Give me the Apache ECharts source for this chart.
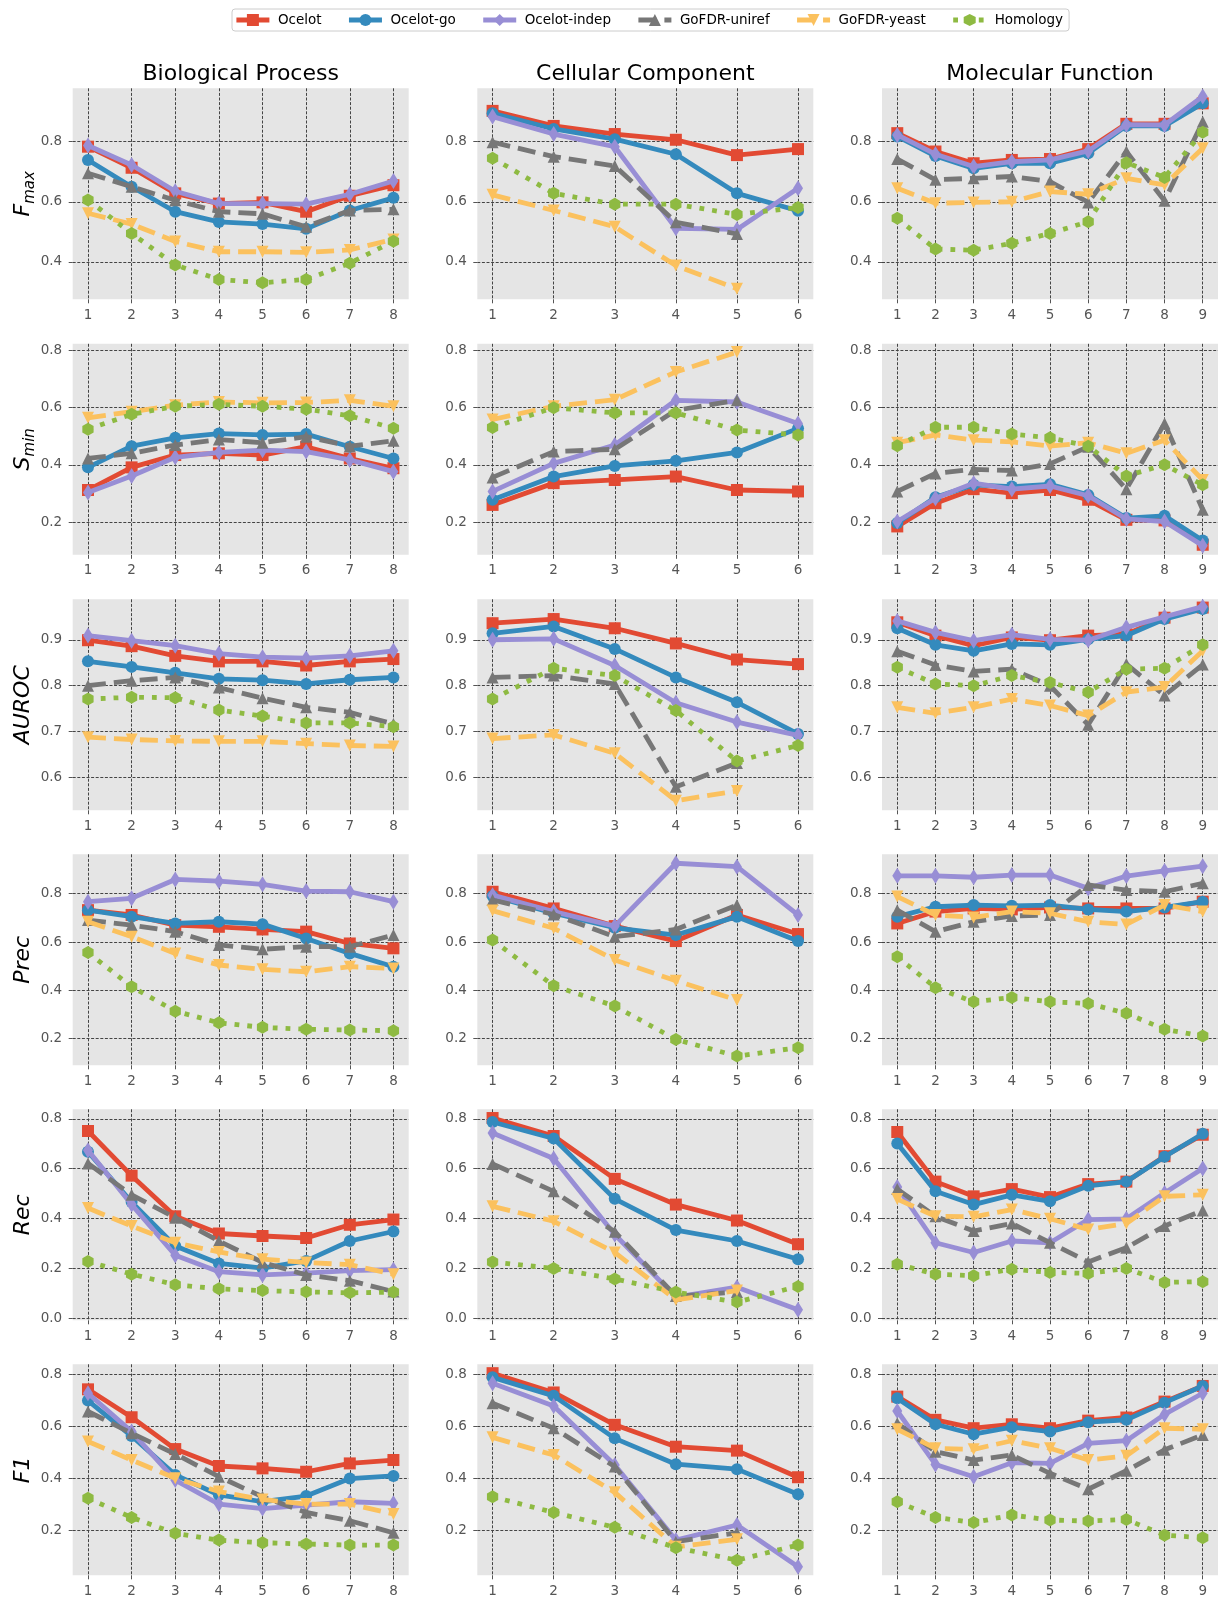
<!DOCTYPE html>
<html>
<head>
<meta charset="utf-8">
<script src="https://cdn.jsdelivr.net/npm/echarts@6/dist/echarts.min.js"></script>
<style>
  html, body { margin: 0; padding: 0; background: #ffffff; }
  #chart { width: 1219px; height: 1604px; }
</style>
</head>
<body>
<div id="chart"></div>
<script>
// ---- categories and tick labels ----
const methods = ['Ocelot', 'Ocelot-go', 'Ocelot-indep', 'GoFDR-uniref', 'GoFDR-yeast', 'Homology'];
const ontologies = ['Biological Process', 'Cellular Component', 'Molecular Function'];
const xBP = [1, 2, 3, 4, 5, 6, 7, 8];
const xCC = [1, 2, 3, 4, 5, 6];
const xMF = [1, 2, 3, 4, 5, 6, 7, 8, 9];
const yTicksFmax = [0.4, 0.6, 0.8];
const yTicksSmin = [0.2, 0.4, 0.6, 0.8];
const yTicksAuroc = [0.6, 0.7, 0.8, 0.9];
const yTicksPrec = [0.2, 0.4, 0.6, 0.8];
const yTicksRec = [0.0, 0.2, 0.4, 0.6, 0.8];
const yTicksF1 = [0.2, 0.4, 0.6, 0.8];

// ---- values: one row per method, in the order of `methods` ----
const fmaxBP = [
  [0.783, 0.713, 0.628, 0.594, 0.598, 0.567, 0.620, 0.655],
  [0.739, 0.650, 0.567, 0.533, 0.526, 0.510, 0.571, 0.613],
  [0.787, 0.722, 0.635, 0.594, 0.594, 0.592, 0.625, 0.669],
  [0.695, 0.650, 0.605, 0.567, 0.560, 0.517, 0.571, 0.575],
  [0.562, 0.526, 0.468, 0.434, 0.434, 0.432, 0.440, 0.475],
  [0.606, 0.495, 0.390, 0.342, 0.331, 0.342, 0.396, 0.469]
];
const fmaxCC = [
  [0.902, 0.852, 0.825, 0.806, 0.755, 0.775],
  [0.894, 0.842, 0.808, 0.758, 0.628, 0.570],
  [0.883, 0.825, 0.783, 0.512, 0.508, 0.645],
  [0.798, 0.750, 0.719, 0.532, 0.493],
  [0.623, 0.571, 0.517, 0.388, 0.311],
  [0.745, 0.628, 0.592, 0.592, 0.558, 0.581]
];
const fmaxMF = [
  [0.828, 0.767, 0.728, 0.739, 0.742, 0.775, 0.859, 0.859, 0.927],
  [0.817, 0.752, 0.711, 0.728, 0.728, 0.761, 0.852, 0.852, 0.927],
  [0.822, 0.758, 0.717, 0.733, 0.739, 0.769, 0.856, 0.855, 0.950],
  [0.742, 0.673, 0.678, 0.684, 0.667, 0.598, 0.767, 0.603, 0.866],
  [0.645, 0.595, 0.598, 0.600, 0.634, 0.625, 0.678, 0.656, 0.778],
  [0.545, 0.443, 0.439, 0.462, 0.495, 0.534, 0.730, 0.681, 0.831]
];

const sminBP = [
  [0.312, 0.391, 0.434, 0.440, 0.434, 0.463, 0.422, 0.388],
  [0.391, 0.465, 0.494, 0.509, 0.504, 0.507, 0.463, 0.422],
  [0.303, 0.361, 0.426, 0.443, 0.451, 0.446, 0.417, 0.376],
  [0.422, 0.440, 0.469, 0.488, 0.477, 0.498, 0.465, 0.484],
  [0.564, 0.585, 0.608, 0.619, 0.616, 0.617, 0.625, 0.604],
  [0.524, 0.576, 0.604, 0.611, 0.604, 0.594, 0.571, 0.527]
];
const sminCC = [
  [0.260, 0.336, 0.347, 0.359, 0.312, 0.307],
  [0.278, 0.359, 0.396, 0.414, 0.443, 0.527],
  [0.307, 0.405, 0.469, 0.625, 0.619, 0.544],
  [0.356, 0.446, 0.454, 0.590, 0.625],
  [0.558, 0.604, 0.627, 0.724, 0.793],
  [0.530, 0.599, 0.581, 0.581, 0.521, 0.504]
];
const sminMF = [
  [0.185, 0.266, 0.315, 0.301, 0.312, 0.278, 0.208, 0.206, 0.121],
  [0.197, 0.287, 0.330, 0.324, 0.332, 0.295, 0.214, 0.222, 0.136],
  [0.202, 0.283, 0.336, 0.315, 0.326, 0.292, 0.211, 0.202, 0.118],
  [0.307, 0.370, 0.384, 0.380, 0.403, 0.463, 0.315, 0.544, 0.243],
  [0.477, 0.504, 0.486, 0.480, 0.465, 0.477, 0.440, 0.486, 0.347],
  [0.466, 0.531, 0.531, 0.507, 0.494, 0.465, 0.361, 0.400, 0.330]
];

const aurocBP = [
  [0.899, 0.886, 0.865, 0.853, 0.853, 0.844, 0.853, 0.858],
  [0.853, 0.841, 0.828, 0.815, 0.812, 0.804, 0.813, 0.818],
  [0.909, 0.898, 0.887, 0.870, 0.862, 0.860, 0.865, 0.876],
  [0.800, 0.811, 0.818, 0.796, 0.773, 0.753, 0.742, 0.717],
  [0.688, 0.683, 0.680, 0.679, 0.679, 0.674, 0.670, 0.668],
  [0.771, 0.775, 0.774, 0.747, 0.734, 0.719, 0.719, 0.711]
];
const aurocCC = [
  [0.936, 0.945, 0.925, 0.892, 0.857, 0.847],
  [0.914, 0.929, 0.880, 0.818, 0.764, 0.695],
  [0.900, 0.902, 0.844, 0.763, 0.721, 0.692],
  [0.818, 0.822, 0.804, 0.580, 0.632],
  [0.685, 0.693, 0.653, 0.550, 0.571],
  [0.771, 0.838, 0.822, 0.746, 0.636, 0.670]
];
const aurocMF = [
  [0.938, 0.909, 0.887, 0.905, 0.899, 0.909, 0.912, 0.948, 0.970],
  [0.925, 0.889, 0.876, 0.891, 0.889, 0.901, 0.909, 0.945, 0.967],
  [0.941, 0.916, 0.898, 0.911, 0.901, 0.899, 0.927, 0.950, 0.972],
  [0.875, 0.845, 0.831, 0.836, 0.800, 0.715, 0.847, 0.779, 0.846],
  [0.753, 0.740, 0.753, 0.771, 0.757, 0.735, 0.786, 0.797, 0.876],
  [0.840, 0.804, 0.800, 0.822, 0.807, 0.786, 0.836, 0.838, 0.889]
];

const precBP = [
  [0.732, 0.712, 0.670, 0.663, 0.652, 0.643, 0.594, 0.574],
  [0.732, 0.705, 0.677, 0.684, 0.674, 0.615, 0.553, 0.498],
  [0.767, 0.781, 0.859, 0.852, 0.839, 0.811, 0.808, 0.767],
  [0.691, 0.670, 0.643, 0.588, 0.570, 0.581, 0.581, 0.629],
  [0.684, 0.622, 0.553, 0.505, 0.487, 0.477, 0.498, 0.491],
  [0.557, 0.415, 0.314, 0.266, 0.247, 0.239, 0.236, 0.233]
];
const precCC = [
  [0.808, 0.739, 0.666, 0.604, 0.712, 0.633],
  [0.790, 0.719, 0.659, 0.629, 0.705, 0.604],
  [0.794, 0.726, 0.666, 0.926, 0.912, 0.712],
  [0.774, 0.714, 0.622, 0.652, 0.753],
  [0.730, 0.657, 0.526, 0.440, 0.360],
  [0.608, 0.419, 0.335, 0.197, 0.128, 0.163]
];
const precMF = [
  [0.677, 0.726, 0.739, 0.735, 0.743, 0.739, 0.739, 0.739, 0.767],
  [0.705, 0.746, 0.753, 0.750, 0.753, 0.735, 0.726, 0.743, 0.767],
  [0.874, 0.874, 0.868, 0.877, 0.877, 0.822, 0.873, 0.894, 0.914],
  [0.732, 0.643, 0.684, 0.708, 0.712, 0.836, 0.815, 0.808, 0.843],
  [0.788, 0.712, 0.702, 0.726, 0.719, 0.684, 0.673, 0.753, 0.726],
  [0.539, 0.411, 0.353, 0.371, 0.353, 0.346, 0.305, 0.239, 0.211]
];

const recBP = [
  [0.751, 0.572, 0.409, 0.340, 0.330, 0.322, 0.375, 0.396],
  [0.668, 0.466, 0.290, 0.220, 0.201, 0.230, 0.310, 0.348],
  [0.674, 0.456, 0.253, 0.187, 0.174, 0.181, 0.191, 0.195],
  [0.621, 0.495, 0.403, 0.310, 0.224, 0.174, 0.151, 0.107],
  [0.442, 0.370, 0.303, 0.266, 0.237, 0.224, 0.215, 0.177],
  [0.228, 0.177, 0.135, 0.118, 0.111, 0.106, 0.102, 0.105]
];
const recCC = [
  [0.803, 0.731, 0.559, 0.456, 0.392, 0.297],
  [0.787, 0.721, 0.479, 0.354, 0.310, 0.237],
  [0.743, 0.641, 0.336, 0.085, 0.125, 0.034],
  [0.619, 0.509, 0.347, 0.089, 0.105],
  [0.449, 0.389, 0.264, 0.074, 0.111],
  [0.226, 0.200, 0.158, 0.105, 0.065, 0.128]
];
const recMF = [
  [0.747, 0.548, 0.489, 0.518, 0.486, 0.538, 0.548, 0.650, 0.736],
  [0.701, 0.509, 0.456, 0.495, 0.469, 0.531, 0.548, 0.648, 0.740],
  [0.526, 0.303, 0.264, 0.310, 0.303, 0.396, 0.399, 0.502, 0.601],
  [0.518, 0.409, 0.350, 0.380, 0.303, 0.226, 0.283, 0.370, 0.432],
  [0.478, 0.409, 0.407, 0.436, 0.399, 0.356, 0.380, 0.489, 0.495],
  [0.217, 0.177, 0.171, 0.197, 0.184, 0.180, 0.200, 0.144, 0.147]
];

const f1BP = [
  [0.742, 0.635, 0.513, 0.448, 0.439, 0.426, 0.458, 0.471],
  [0.699, 0.563, 0.414, 0.337, 0.311, 0.333, 0.400, 0.410],
  [0.727, 0.580, 0.394, 0.302, 0.285, 0.298, 0.311, 0.305],
  [0.657, 0.574, 0.494, 0.407, 0.330, 0.270, 0.238, 0.192],
  [0.542, 0.471, 0.401, 0.350, 0.320, 0.302, 0.302, 0.264],
  [0.324, 0.251, 0.190, 0.164, 0.154, 0.149, 0.145, 0.145]
];
const f1CC = [
  [0.804, 0.730, 0.606, 0.522, 0.507, 0.405],
  [0.788, 0.717, 0.554, 0.455, 0.436, 0.340],
  [0.765, 0.678, 0.452, 0.164, 0.222, 0.062],
  [0.689, 0.593, 0.446, 0.158, 0.192],
  [0.558, 0.490, 0.347, 0.138, 0.167],
  [0.330, 0.270, 0.213, 0.135, 0.087, 0.145]
];
const f1MF = [
  [0.714, 0.625, 0.593, 0.608, 0.593, 0.622, 0.634, 0.695, 0.755],
  [0.708, 0.608, 0.570, 0.597, 0.580, 0.616, 0.625, 0.691, 0.755],
  [0.659, 0.454, 0.407, 0.461, 0.458, 0.535, 0.545, 0.646, 0.727],
  [0.612, 0.503, 0.471, 0.490, 0.420, 0.359, 0.430, 0.510, 0.567],
  [0.589, 0.516, 0.512, 0.545, 0.516, 0.471, 0.487, 0.593, 0.589],
  [0.311, 0.251, 0.231, 0.260, 0.241, 0.237, 0.243, 0.183, 0.173]
];

// ---- layout and styling ----
const FONT = 'DejaVu Sans';
const colors = ['#E24A33', '#348ABD', '#988ED5', '#777777', '#FBC15E', '#8EBA42'];
const hexagon = 'path://M0,-10L8.66,-5L8.66,5L0,10L-8.66,5L-8.66,-5Z';
const symbols = ['rect', 'circle', 'diamond', 'triangle', 'triangle', hexagon];
const symbolSizes = [12, 12, [10, 16], 12, 12, 13];
const symbolRotates = [0, 0, 0, 0, 180, 0];
const dashes = ['solid', 'solid', 'solid', [18, 8], [18, 8], [4.8, 8]];

const xValues = [xBP, xCC, xMF];
const xLimits = [[0.65, 8.35], [0.75, 6.25], [0.6, 9.4]];
const rows = [
  { label: '{i|F}{s|max}', ticks: yTicksFmax, lim: [0.276, 0.977], data: [fmaxBP, fmaxCC, fmaxMF] },
  { label: '{i|S}{s|min}', ticks: yTicksSmin, lim: [0.086, 0.822], data: [sminBP, sminCC, sminMF] },
  { label: '{i|AUROC}', ticks: yTicksAuroc, lim: [0.529, 0.988], data: [aurocBP, aurocCC, aurocMF] },
  { label: '{i|Prec}', ticks: yTicksPrec, lim: [0.090, 0.963], data: [precBP, precCC, precMF] },
  { label: '{i|Rec}', ticks: yTicksRec, lim: [-0.008, 0.838], data: [recBP, recCC, recMF] },
  { label: '{i|F1}', ticks: yTicksF1, lim: [0.029, 0.838], data: [f1BP, f1CC, f1MF] }
];
const colLeft = [72.7, 477.3, 882];
const rowTop = [88.3, 343.8, 599.3, 854.3, 1109.3, 1364.3];
const panelW = 336, panelH = 211;

const grids = [], xAxes = [], yAxes = [], series = [], graphics = [];
const gridLine = { show: true, lineStyle: { color: '#444444', width: 1, type: [3, 1.6] } };
const tickLabel = { color: '#555555', fontSize: 13.5, fontFamily: FONT };

rows.forEach((row, r) => {
  for (let c = 0; c < 3; c++) {
    const k = grids.length;
    grids.push({
      left: colLeft[c], top: rowTop[r], width: panelW, height: panelH,
      show: true, backgroundColor: '#E5E5E5', borderWidth: 0, containLabel: false
    });
    xAxes.push({
      type: 'value', gridIndex: k, min: xLimits[c][0], max: xLimits[c][1],
      axisLine: { show: false, onZero: false },
      axisTick: { show: true, length: 4, customValues: xValues[c], lineStyle: { color: '#555555' } },
      axisLabel: Object.assign({ customValues: xValues[c], margin: 9, formatter: v => String(v) }, tickLabel),
      splitLine: gridLine
    });
    yAxes.push({
      type: 'value', gridIndex: k, min: row.lim[0], max: row.lim[1],
      axisLine: { show: false, onZero: false },
      axisTick: { show: true, length: 4, customValues: row.ticks, lineStyle: { color: '#555555' } },
      axisLabel: Object.assign({ customValues: row.ticks, margin: 10.5, formatter: v => v.toFixed(1) }, tickLabel),
      splitLine: gridLine
    });
    const xs = xValues[c];
    row.data[c].forEach((vals, m) => {
      series.push({
        name: methods[m], type: 'line', xAxisIndex: k, yAxisIndex: k,
        data: vals.map((v, i) => [xs[i], v]),
        z: 2 + m,
        symbol: symbols[m], symbolSize: symbolSizes[m], symbolRotate: symbolRotates[m],
        symbolKeepAspect: true, showSymbol: true,
        lineStyle: { color: colors[m], width: 4.8, type: dashes[m], join: 'round', cap: 'butt' },
        itemStyle: { color: colors[m], borderWidth: 0 },
        emphasis: { disabled: true },
        silent: true
      });
    });
  }
  // row label on the left
  graphics.push({
    type: 'text', x: 23, y: rowTop[r] + panelH / 2, rotation: Math.PI / 2,
    style: {
      text: row.label, align: 'center', verticalAlign: 'middle',
      rich: {
        i: { fontFamily: FONT, fontStyle: 'italic', fontSize: 22, fill: '#000', lineHeight: 30, verticalAlign: 'middle' },
        s: { fontFamily: FONT, fontStyle: 'italic', fontSize: 15, fill: '#000', lineHeight: 16, verticalAlign: 'bottom' }
      }
    }
  });
});

// column titles
ontologies.forEach((t, c) => {
  graphics.push({
    type: 'text', x: colLeft[c] + panelW / 2, y: 74,
    style: { text: t, fontFamily: FONT, fontSize: 22, fill: '#000', align: 'center', verticalAlign: 'middle' }
  });
});

const chart = echarts.init(document.getElementById('chart'), null, { renderer: 'canvas' });
chart.setOption({
  animation: false,
  backgroundColor: '#ffffff',
  legend: {
    data: methods, top: 9, left: 232, orient: 'horizontal',
    itemWidth: 33, itemHeight: 15, itemGap: 25,
    padding: [4, 6, 4, 2],
    borderColor: '#cccccc', borderWidth: 1, borderRadius: 3, backgroundColor: '#ffffff',
    lineStyle: { width: 4.8 },
    textStyle: { fontSize: 13.5, color: '#000000', fontFamily: FONT, padding: [0, 0, 0, 3.5] },
    selectedMode: false
  },
  grid: grids, xAxis: xAxes, yAxis: yAxes, series: series, graphic: graphics
});
</script>
</body>
</html>
